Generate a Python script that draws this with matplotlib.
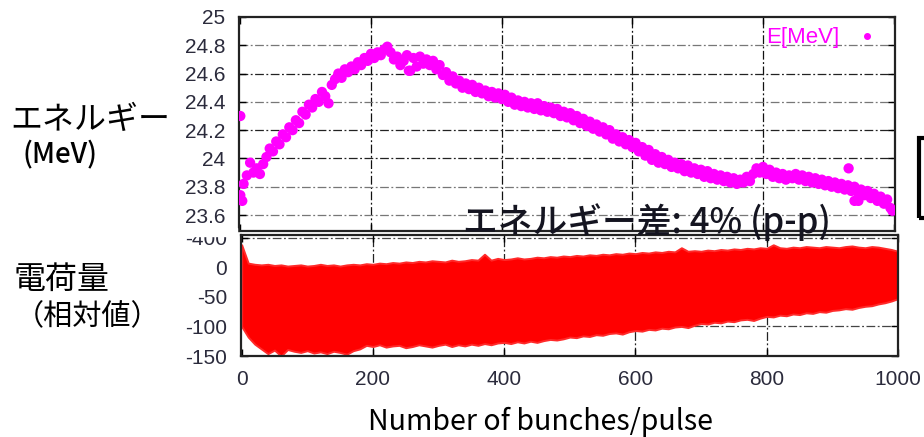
import numpy as np
import matplotlib
matplotlib.use("Agg")
from matplotlib import pyplot as plt
from matplotlib.patches import Rectangle

plt.rcParams['font.family'] = ['Liberation Sans', 'DejaVu Sans']

# energy of each bunch [MeV], sampled every 5 bunches
energy_x = np.arange(0, 1000, 5)
energy = [
    23.74, 23.82, 23.88, 23.97, 23.90, 23.93, 23.89, 23.96, 24.01, 24.07,
    24.05, 24.12, 24.10, 24.17, 24.15, 24.22, 24.20, 24.27, 24.25, 24.33,
    24.31, 24.38, 24.36, 24.42, 24.40, 24.47, 24.44, 24.39, 24.52, 24.56,
    24.60, 24.57, 24.63, 24.61, 24.65, 24.63, 24.68, 24.66, 24.71, 24.69,
    24.74, 24.71, 24.75, 24.73, 24.77, 24.79, 24.75, 24.70, 24.72, 24.66,
    24.69, 24.73, 24.62, 24.71, 24.65, 24.72, 24.67, 24.70, 24.66, 24.69,
    24.63, 24.66, 24.59, 24.61, 24.55, 24.58, 24.53, 24.55, 24.50, 24.53,
    24.49, 24.52, 24.47, 24.50, 24.46, 24.48, 24.44, 24.47, 24.43, 24.46,
    24.42, 24.45, 24.40, 24.43, 24.38, 24.41, 24.37, 24.40, 24.36, 24.39,
    24.35, 24.39, 24.34, 24.37, 24.33, 24.36, 24.32, 24.35, 24.30, 24.33,
    24.29, 24.32, 24.27, 24.30, 24.25, 24.28, 24.23, 24.26, 24.21, 24.24,
    24.19, 24.22, 24.17, 24.20, 24.14, 24.17, 24.12, 24.15, 24.10, 24.13,
    24.08, 24.11, 24.05, 24.08, 24.02, 24.06, 23.99, 24.03, 23.97, 24.01,
    23.96, 23.99, 23.94, 23.97, 23.93, 23.96, 23.91, 23.95, 23.90, 23.93,
    23.89, 23.92, 23.87, 23.91, 23.86, 23.89, 23.85, 23.88, 23.84, 23.87,
    23.83, 23.86, 23.82, 23.85, 23.83, 23.87, 23.84, 23.89, 23.93, 23.90,
    23.94, 23.89, 23.92, 23.87, 23.90, 23.86, 23.89, 23.85, 23.88, 23.86,
    23.89, 23.85, 23.88, 23.84, 23.87, 23.83, 23.86, 23.82, 23.85, 23.81,
    23.84, 23.80, 23.83, 23.79, 23.82, 23.78, 23.81, 23.77, 23.80, 23.76,
    23.78, 23.74, 23.77, 23.72, 23.75, 23.70, 23.73, 23.68, 23.71, 23.65,
]
# stray points off the main band
stray_x = [0, 3, 258, 931, 940, 946, 998]
stray_e = [24.30, 23.70, 24.62, 23.93, 23.70, 23.70, 23.63]

# charge signal envelope (relative), every 10 bunches
charge_x = np.arange(0, 1001, 10)
charge_hi = [
    38,
    7, 5, 4, 5, 3, 4, 2, 3, 4,
    2, 3, 5, 3, 4, 2, 4, 5, 4, 6,
    5, 7, 6, 8, 7, 9, 8, 10, 9, 11,
    10, 9, 12, 10, 11, 13, 12, 22, 12, 15,
    13, 14, 16, 14, 15, 17, 16, 18, 17, 19,
    18, 20, 19, 21, 20, 22, 21, 23, 22, 24,
    23, 25, 24, 26, 25, 27, 26, 33, 27, 28,
    27, 29, 28, 30, 29, 31, 30, 32, 31, 33,
    32, 38, 33, 32, 34, 33, 35, 34, 33, 35,
    34, 33, 35, 36, 34, 33, 35, 34, 32, 30,
    27,
]
charge_lo = [
    -100,
    -118, -130, -138, -146, -140, -150, -139, -142, -144,
    -141, -145, -143, -146, -142, -144, -147, -141, -138, -132,
    -134, -131, -135, -133, -132, -136, -134, -131, -133, -135,
    -132, -130, -134, -131, -133, -130, -132, -129, -131, -128,
    -127, -129, -126, -128, -125, -127, -124, -122, -123, -121,
    -118, -119, -116, -117, -114, -115, -112, -111, -113, -109,
    -107, -108, -105, -106, -103, -104, -101, -100, -102, -98,
    -95, -96, -93, -94, -91, -92, -89, -88, -90, -86,
    -83, -84, -81, -82, -79, -80, -77, -78, -75, -76,
    -73, -72, -70, -71, -68, -66, -65, -62, -60, -57,
    -53,
]

e_ticks = [23.6, 23.8, 24, 24.2, 24.4, 24.6, 24.8, 25]
e_labels = ['23.6', '23.8', '24', '24.2', '24.4', '24.6', '24.8', '25']
q_ticks = [-150, -100, -50, 0, 50]
q_labels = ['-150', '-100', '-50', '0', '-400']
x_ticks = [0, 200, 400, 600, 800, 1000]

W, H = 924, 437
tick_color = '#2b2b3c'
grid_dash = (0, (7, 2, 1.5, 2))


def px_box(left, top, right, bottom):
    return [left / W, 1 - bottom / H, (right - left) / W, (bottom - top) / H]


def style_axes(ax):
    for s in ax.spines.values():
        s.set_linewidth(1.6)
        s.set_color('#222222')
    ax.tick_params(direction='in', length=5, width=1, top=True, right=True,
                   labelsize=15, labelcolor=tick_color, pad=10)


fig = plt.figure(figsize=(W / 100, H / 100), dpi=100)

# charge panel
ax2 = fig.add_axes(px_box(241, 235, 898, 356))
style_axes(ax2)
for xv in x_ticks[1:-1]:
    ax2.axvline(xv, color='#222222', lw=0.9, ls=grid_dash, zorder=1)
for yv in q_ticks[1:]:
    ax2.axhline(yv, color='#444444', lw=0.9, ls=grid_dash, zorder=1)
ax2.fill_between(charge_x, charge_lo, charge_hi, color='#ff0000', lw=1.4,
                 edgecolor='#ff2a2a', zorder=2)
ax2.set_xlim(-1, 1000)
ax2.set_ylim(-150, 54.5)
ax2.set_xticks(x_ticks)
ax2.set_yticks(q_ticks)
ax2.set_yticklabels(q_labels)

# energy panel
ax1 = fig.add_axes(px_box(239, 17, 895, 231))
style_axes(ax1)
for xv in x_ticks[1:-1]:
    ax1.axvline(xv, color='#111111', lw=0.9, ls=grid_dash, zorder=1)
for yv in e_ticks[:-1]:
    dark = yv in (24.6, 24.2, 24.0)
    ax1.axhline(yv, color='#222222' if dark else '#777777', lw=0.9,
                ls=grid_dash, zorder=1)
ax1.scatter(energy_x, energy, s=55, color='#ff00ff', edgecolors='none', zorder=3)
ax1.scatter(stray_x, stray_e, s=55, color='#ff00ff', edgecolors='none', zorder=3)
ax1.set_xlim(-2, 1002)
ax1.set_ylim(23.487, 25.0)
ax1.set_xticks(x_ticks)
ax1.set_xticklabels([])
ax1.set_yticks(e_ticks)
ax1.set_yticklabels(e_labels)

# legend in the top right corner
ax1.text(0.915, 0.905, 'E[MeV]', transform=ax1.transAxes, ha='right',
         va='center', color='#ff00ff', fontsize=16)
ax1.plot([0.958], [0.91], 'o', transform=ax1.transAxes, color='#ff00ff', ms=4)

# hide the top of the uppermost charge label behind the energy panel
fig.patches.append(Rectangle((165 / W, 1 - 236 / H), 72 / W, 8 / H,
                             transform=fig.transFigure, color='white', zorder=1))

jp = ['Noto Sans CJK JP', 'DejaVu Sans']
fig.text(90 / W, 1 - 120 / H, 'エネルギー', family=jp, fontsize=23,
         ha='center', va='center')
fig.text(60 / W, 1 - 155 / H, '(MeV)', family=jp, fontsize=20,
         ha='center', va='center', fontweight='medium')
fig.text(62 / W, 1 - 280 / H, '電荷量', family=jp, fontsize=23,
         ha='center', va='center')
fig.text(88 / W, 1 - 317 / H, '（相対値）', family=jp, fontsize=21,
         ha='center', va='center')
fig.text(541 / W, 1 - 422 / H, 'Number of bunches/pulse', family=jp,
         fontsize=20.5, ha='center', va='center')
fig.text(647 / W, 1 - 222 / H, 'エネルギー差: 4% (p-p)', family=jp,
         fontsize=25, ha='center', va='center', color='#141420', zorder=5,
         fontweight='medium')

# bracket at the right margin
fig.patches.append(Rectangle((919 / W, 1 - 218 / H), 30 / W, 80 / H,
                             transform=fig.transFigure, fill=False,
                             edgecolor='black', lw=3, zorder=2))

plt.savefig('out.png', dpi=100)
